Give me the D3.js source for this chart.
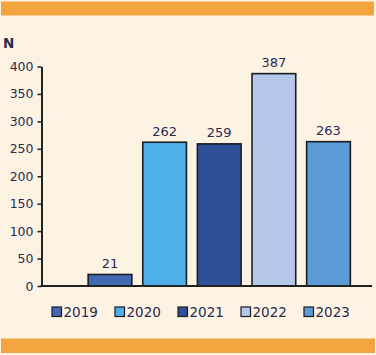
<!DOCTYPE html>
<html>
<head>
<meta charset="utf-8">
<script src="https://cdn.jsdelivr.net/npm/d3@7"></script>
<style>
  html, body { margin: 0; padding: 0; background: #fff; }
  svg { display: block; }
</style>
</head>
<body>
<div id="chart"></div>
<script>
// data
const years = ['2019', '2020', '2021', '2022', '2023'];
const counts = [21, 262, 259, 387, 263];
const barColors = ['#4169b2', '#4fb0e7', '#2d5096', '#b6c8ea', '#5a9ad5'];
const yTicks = [0, 50, 100, 150, 200, 250, 300, 350, 400];

const W = 376, H = 355;
const ink = '#2a2a4e';
const font = '"DejaVu Sans", sans-serif';

const svg = d3.select('#chart').append('svg')
  .attr('width', W)
  .attr('height', H);

// background + orange bands
svg.append('rect').attr('x', 0).attr('y', 0).attr('width', W).attr('height', H).attr('fill', '#fdf3e3');
svg.append('rect').attr('x', 1).attr('y', 1.5).attr('width', 373).attr('height', 14).attr('fill', '#f2a53e');
svg.append('rect').attr('x', 1).attr('y', 338.5).attr('width', 374).attr('height', 14.5).attr('fill', '#f2a53e');

const x = d3.scaleBand()
  .domain(years)
  .range([41.5, 372])
  .paddingInner(0.2)
  .paddingOuter(0.625)
  .align(0.683);

const y = d3.scaleLinear()
  .domain([0, 400])
  .range([286, 66.5]);

// bars
svg.append('g').selectAll('rect')
  .data(years)
  .join('rect')
  .attr('x', d => x(d))
  .attr('y', (d, i) => y(counts[i]))
  .attr('width', x.bandwidth())
  .attr('height', (d, i) => y(0) - y(counts[i]))
  .attr('fill', (d, i) => barColors[i])
  .attr('stroke', '#1c1c24')
  .attr('stroke-width', 1.6);

// value labels
svg.append('g').selectAll('text')
  .data(years)
  .join('text')
  .attr('x', d => x(d) + x.bandwidth() / 2)
  .attr('y', (d, i) => y(counts[i]) - 6.5)
  .attr('text-anchor', 'middle')
  .attr('font-family', font)
  .attr('font-size', 13)
  .attr('fill', ink)
  .text((d, i) => counts[i]);

// y axis
const yAxis = svg.append('g')
  .attr('transform', 'translate(41.5,0)')
  .call(d3.axisLeft(y).tickValues(yTicks).tickSize(4).tickSizeOuter(0).tickPadding(4));
yAxis.select('.domain').attr('stroke', '#222').attr('stroke-width', 2);
yAxis.selectAll('.tick line').attr('stroke', '#222').attr('stroke-width', 1.5);
yAxis.selectAll('.tick text')
  .attr('font-family', font)
  .attr('font-size', 12.5)
  .attr('fill', ink);

// x baseline
svg.append('line')
  .attr('x1', 40.5).attr('x2', 372)
  .attr('y1', y(0)).attr('y2', y(0))
  .attr('stroke', '#222')
  .attr('stroke-width', 2);

// N label
svg.append('text')
  .attr('x', 3)
  .attr('y', 48)
  .attr('font-family', font)
  .attr('font-size', 13.5)
  .attr('font-weight', 'bold')
  .attr('fill', ink)
  .text('N');

// legend
const legend = svg.append('g').selectAll('g')
  .data(years)
  .join('g')
  .attr('transform', (d, i) => `translate(${52 + i * 63},307)`);
legend.append('rect')
  .attr('width', 9.5)
  .attr('height', 9.5)
  .attr('fill', (d, i) => barColors[i])
  .attr('stroke', '#1c1c24')
  .attr('stroke-width', 1.2);
legend.append('text')
  .attr('x', 11.5)
  .attr('y', 10)
  .attr('font-family', font)
  .attr('font-size', 13.5)
  .attr('fill', ink)
  .text(d => d);
</script>
</body>
</html>
